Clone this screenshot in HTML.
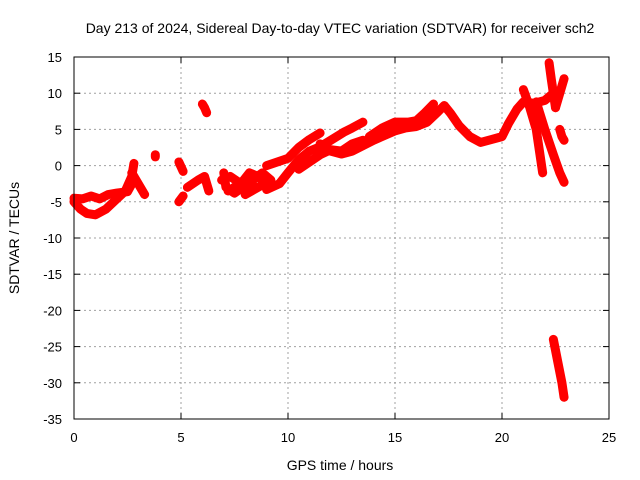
<!DOCTYPE html>
<html><head><meta charset="utf-8"><style>
body{margin:0;background:#fff}
svg{display:block;font-family:"Liberation Sans",sans-serif}
</style></head><body>
<svg id="chart" width="640" height="480">
<text x="340" y="33" font-size="14" text-anchor="middle">Day 213 of 2024, Sidereal Day-to-day VTEC variation (SDTVAR) for receiver sch2</text>
<g id="grid"></g>
<g id="ticks"></g>
<g id="series"></g>
<rect x="74" y="57" width="535" height="362" fill="none" stroke="#000" stroke-width="1"/>
<text x="340" y="470" font-size="14" text-anchor="middle">GPS time / hours</text>
<text transform="translate(19,238) rotate(-90)" font-size="14" text-anchor="middle">SDTVAR / TECUs</text>
</svg>
<script>
const xTicks=[0,5,10,15,20,25];
const yTicks=[15,10,5,0,-5,-10,-15,-20,-25,-30,-35];
// arcs: [time, value]
const arc1=[[0,-5],[0.3,-6],[0.6,-6.6],[1,-6.8],[1.5,-6],[2,-4.6],[2.4,-3.5],[2.7,-1.5],[2.8,0.3]];
const arc2=[[0,-4.5],[0.4,-4.6],[0.8,-4.2],[1.2,-4.6],[1.6,-4],[2,-3.8],[2.5,-3.6],[2.8,-2]];
const arc3=[[2.7,-1],[2.9,-2],[3.1,-3],[3.3,-4]];
const clust1=[[3.8,1.2],[3.8,1.5]];
const arc4=[[4.9,0.5],[5.1,-0.8]];
const arc5=[[4.9,-5],[5.1,-4.2]];
const arc6=[[6.0,8.5],[6.1,8],[6.2,7.3]];
const arc7=[[5.3,-3],[5.8,-2],[6.1,-1.5],[6.3,-3.5]];
const arc8=[[6.9,-2],[7.3,-1.5],[7.8,-2.5],[8.2,-1],[8.6,-1.5],[9,-2.5]];
const arc9=[[7.2,-3.5],[7.6,-2.8],[8,-3.2],[8.4,-2.8]];
const arc9b=[[7.0,-1],[7.1,-3],[7.5,-3.8],[8.8,-1],[9.2,-2],[8.0,-4]];
const arc10=[[9,-3.3],[9.6,-2.5],[10,-1],[10.5,0.8],[11,2],[11.5,2.6],[12,3.5],[12.6,4.6],[13,5.2],[13.5,6]];
const arc11=[[9,0],[9.5,0.5],[10,1],[10.5,2.5],[11,3.6],[11.5,4.5]];
const arc12=[[10.5,-0.5],[11,0.5],[11.5,1.5],[12,2.2],[12.5,2],[13,3],[13.5,3.5]];
const arc13=[[11.5,3],[12,2],[12.5,1.6],[13,2],[14,3.5],[15,4.8],[15.5,5.2],[16,5.4],[16.5,6],[17,7.4],[17.3,8.3],[17.6,7.2],[18,5.5],[18.5,4],[19,3.2],[19.5,3.6],[20,4],[20.3,5.8],[20.7,7.8],[21,8.8],[21.5,8.6],[22,9],[22.4,10]];
const arc14=[[13.8,4],[14.4,5.2],[15,6],[15.6,6],[16,6.2],[16.4,7.3],[16.8,8.5]];
const arc15=[[21,10.5],[21.3,8],[21.6,5],[21.9,-1]];
const arc16=[[21.6,8.8],[22,5],[22.4,1.5],[22.7,-1],[22.9,-2.3]];
const arc17=[[22.2,14.2],[22.3,12],[22.4,10],[22.5,8]];
const arc18=[[22.5,8],[22.7,10],[22.9,12]];
const arc19=[[22.7,5],[22.8,4],[22.9,3.5]];
const arc20=[[22.4,-24],[22.6,-27],[22.8,-30],[22.9,-32]];
const arcs=[arc1,arc2,arc3,clust1,arc4,arc5,arc6,arc7,arc8,arc9,arc9b,arc10,arc11,arc12,arc13,arc14,arc15,arc16,arc17,arc18,arc19,arc20];

const X0=74,X1=609,Y0=57,Y1=419;
const sx=t=>X0+(t-0)/(25-0)*(X1-X0);
const sy=v=>Y0+(15-v)/(15-(-35))*(Y1-Y0);
const NS="http://www.w3.org/2000/svg";
const grid=document.getElementById('grid'),ticks=document.getElementById('ticks'),ser=document.getElementById('series');
function mk(tag,attrs,parent){const e=document.createElementNS(NS,tag);for(const k in attrs)e.setAttribute(k,attrs[k]);parent.appendChild(e);return e;}
xTicks.forEach(t=>{
  const x=sx(t);
  if(t>0&&t<25){const g=mk('line',{x1:x,x2:x,y1:Y0,y2:Y1,stroke:'#a0a0a0','stroke-dasharray':'2,3'},grid);
  
  }
  const tl=mk('text',{x:x,y:442,'font-size':13,'text-anchor':'middle'},ticks);tl.textContent=t;
  
  
  mk('line',{x1:x,x2:x,y1:Y1,y2:Y1-6,stroke:'#000'},ticks);
  mk('line',{x1:x,x2:x,y1:Y0,y2:Y0+6,stroke:'#000'},ticks);
});
yTicks.forEach(v=>{
  const y=sy(v);
  if(v<15&&v>-35){const g=mk('line',{x1:X0,x2:X1,y1:y,y2:y,stroke:'#a0a0a0','stroke-dasharray':'2,3'},grid);
  
  }
  const tl=mk('text',{x:62,y:y+5,'font-size':13,'text-anchor':'end'},ticks);tl.textContent=v;
  
  
  mk('line',{x1:X0,x2:X0+6,y1:y,y2:y,stroke:'#000'},ticks);
  mk('line',{x1:X1,x2:X1-6,y1:y,y2:y,stroke:'#000'},ticks);
});
arcs.forEach(a=>{
  if(a.length>1){
    const pl=mk('polyline',{points:a.map(p=>sx(p[0])+','+sy(p[1])).join(' '),fill:'none',stroke:'#ff0000','stroke-width':9,'stroke-linejoin':'round','stroke-linecap':'round'},ser);
    
    
  }
  a.forEach(p=>{
    const x=sx(p[0]),y=sy(p[1]);
    const m=mk('path',{d:`M${x-4},${y}H${x+4}M${x},${y-4}V${y+4}`,stroke:'#ff0000','stroke-width':1.5},ser);
    
    
  });
});
</script>
</body></html>
